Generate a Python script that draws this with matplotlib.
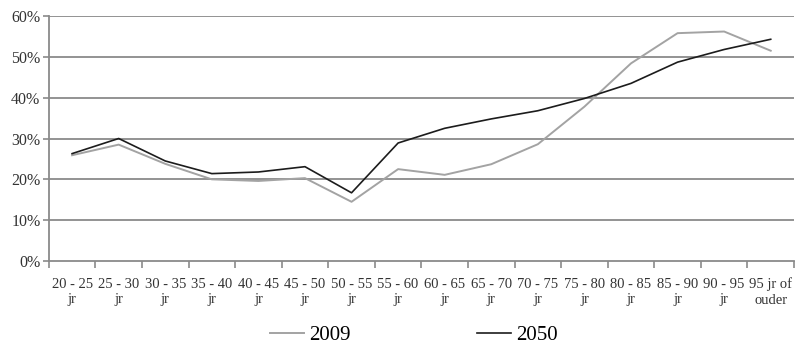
import numpy as np
import matplotlib
matplotlib.use('Agg')
import matplotlib.pyplot as plt
from matplotlib.ticker import FuncFormatter

leeftijd = ['20 - 25\njr', '25 - 30\njr', '30 - 35\njr', '35 - 40\njr',
            '40 - 45\njr', '45 - 50\njr', '50 - 55\njr', '55 - 60\njr',
            '60 - 65\njr', '65 - 70\njr', '70 - 75\njr', '75 - 80\njr',
            '80 - 85\njr', '85 - 90\njr', '90 - 95\njr', '95 jr of\nouder']
p2009 = [25.9, 28.5, 23.8, 20.0, 19.6, 20.3, 14.5, 22.5,
         21.1, 23.7, 28.6, 37.8, 48.4, 55.8, 56.2, 51.5]
p2050 = [26.3, 30.0, 24.5, 21.4, 21.8, 23.1, 16.7, 28.9,
         32.5, 34.8, 36.8, 39.8, 43.5, 48.7, 51.8, 54.3]

plt.rcParams['font.family'] = ['Liberation Serif', 'DejaVu Serif']

fig = plt.figure(figsize=(8, 3.48), dpi=100)
ax = fig.add_axes([0.061, 0.25, 0.9315, 0.704])

x = np.arange(len(leeftijd))
ax.plot(x, p2009, color='#a3a3a3', lw=1.4, label='2009')
ax.plot(x, p2050, color='#1c1c1c', lw=1.2, label='2050')

ax.set_xlim(-0.5, len(leeftijd) - 0.5)
ax.set_ylim(0, 60)
ax.set_yticks(range(0, 61, 10))
ax.yaxis.set_major_formatter(FuncFormatter(lambda v, p: f'{v:.0f}%'))
for v in range(10, 61, 10):
    ax.axhline(v, color='#8a8a8a', lw=1.3, zorder=0)

# labels centred on the categories, tick marks on the boundaries
ax.set_xticks(x)
ax.set_xticklabels(leeftijd, fontsize=10.5, color='#333333', linespacing=1.25)
ax.set_xticks(np.arange(-0.5, len(leeftijd)), minor=True)
ax.tick_params(axis='x', which='major', length=0, pad=12)
ax.tick_params(axis='x', which='minor', length=5, color='#8a8a8a', width=1.2)
ax.tick_params(axis='y', length=4, color='#8a8a8a', width=1.2,
               labelsize=11.5, labelcolor='#333333', pad=2)

for s in ['top', 'right']:
    ax.spines[s].set_visible(False)
for s in ['left', 'bottom']:
    ax.spines[s].set_color('#8a8a8a')
    ax.spines[s].set_linewidth(1.3)

fig.legend(loc='center', bbox_to_anchor=(0.5175, 0.036), ncol=2, frameon=False,
           fontsize=15, handlelength=1.6, handletextpad=0.25, columnspacing=6.1)

fig.savefig('out.png', dpi=100)
